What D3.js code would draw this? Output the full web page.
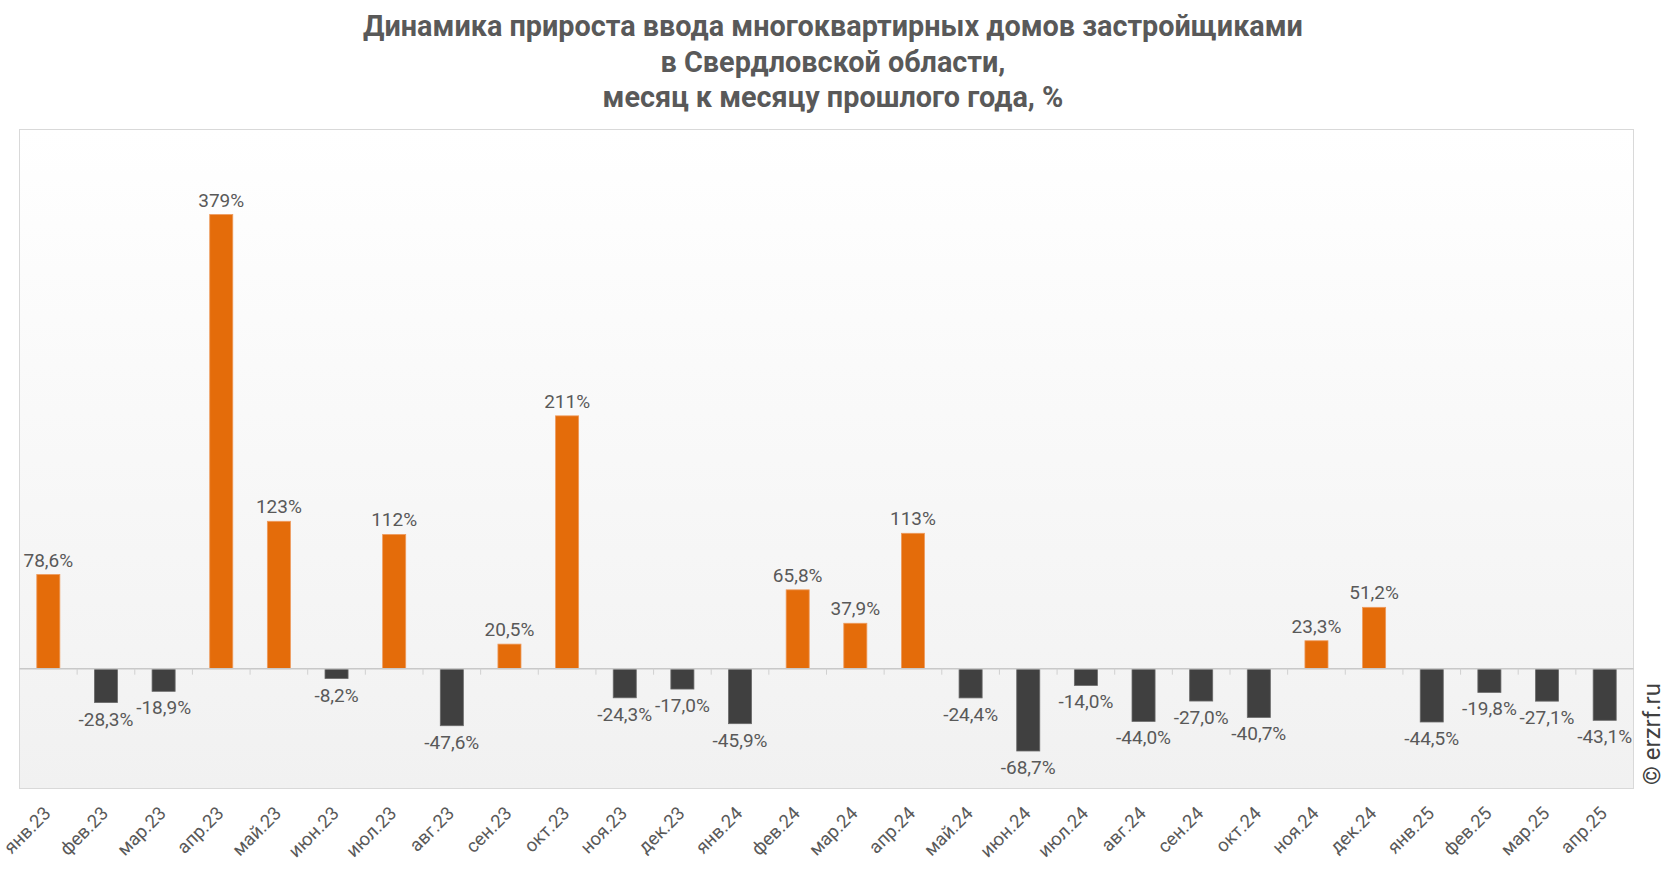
<!DOCTYPE html>
<html>
<head>
<meta charset="utf-8">
<script src="https://cdn.jsdelivr.net/npm/d3@7"></script>
<style>
  html, body { margin: 0; padding: 0; background: #fff; }
  svg { display: block; }
</style>
</head>
<body>
<svg id="chart" width="1666" height="872"></svg>
<script>
const titleLines = [
  "Динамика прироста ввода многоквартирных домов застройщиками",
  "в Свердловской области,",
  "месяц к месяцу прошлого года, %"
];
const categories = ["янв.23","фев.23","мар.23","апр.23","май.23","июн.23","июл.23","авг.23","сен.23","окт.23","ноя.23","дек.23",
  "янв.24","фев.24","мар.24","апр.24","май.24","июн.24","июл.24","авг.24","сен.24","окт.24","ноя.24","дек.24",
  "янв.25","фев.25","мар.25","апр.25"];
const values = [78.6,-28.3,-18.9,379,123,-8.2,112,-47.6,20.5,211,-24.3,-17.0,
  -45.9,65.8,37.9,113,-24.4,-68.7,-14.0,-44.0,-27.0,-40.7,23.3,51.2,
  -44.5,-19.8,-27.1,-43.1];
const yDomain = [-100, 450];
const watermark = "© erzrf.ru";

const svg = d3.select("#chart");
const W = 1666, H = 872;
const plot = {left: 19.5, right: 1633.5, top: 129.5, bottom: 788.5};

// title
svg.append("g").selectAll("text").data(titleLines).join("text")
  .attr("x", W / 2)
  .attr("y", (d, i) => 36 + i * 35.5)
  .attr("text-anchor", "middle")
  .attr("font-family", "Roboto, sans-serif")
  .attr("font-weight", "bold")
  .attr("font-size", 28.8)
  .attr("fill", "#595959")
  .text(d => d);

// background gradient
const defs = svg.append("defs");
const grad = defs.append("linearGradient").attr("id", "bg").attr("x1", 0).attr("y1", 0).attr("x2", 0).attr("y2", 1);
grad.append("stop").attr("offset", "0%").attr("stop-color", "#ffffff");
grad.append("stop").attr("offset", "100%").attr("stop-color", "#f1f1f1");

svg.append("rect")
  .attr("x", plot.left).attr("y", plot.top)
  .attr("width", plot.right - plot.left).attr("height", plot.bottom - plot.top)
  .attr("fill", "url(#bg)")
  .attr("stroke", "#d9d9d9").attr("stroke-width", 1);

const x = d3.scaleBand().domain(categories).range([plot.left, plot.right]).paddingInner(0).paddingOuter(0);
const y = d3.scaleLinear().domain(yDomain).range([plot.bottom, plot.top]);
const barW = x.bandwidth() * 0.4;

// bars
svg.append("g").selectAll("rect").data(values).join("rect")
  .attr("x", (d, i) => x(categories[i]) + (x.bandwidth() - barW) / 2)
  .attr("y", d => y(Math.max(0, d)))
  .attr("width", barW)
  .attr("height", d => Math.abs(y(d) - y(0)))
  .attr("fill", d => d >= 0 ? "#E46C0A" : "#404040")
  .attr("stroke", d => d >= 0 ? "#EE9A5C" : "#6a6a6a")
  .attr("stroke-width", 0.8);

// zero axis with ticks at band boundaries
const axisG = svg.append("g").attr("transform", `translate(0,${y(0)})`);
axisG.append("line")
  .attr("x1", plot.left).attr("x2", plot.right)
  .attr("stroke", "#c8c8c8").attr("stroke-width", 1.5);
const boundaries = categories.slice(1).map(c => x(c));
axisG.selectAll("line.tick").data(boundaries).join("line")
  .attr("class", "tick")
  .attr("x1", d => d).attr("x2", d => d)
  .attr("y1", 0).attr("y2", 6)
  .attr("stroke", "#d0d0d0").attr("stroke-width", 1);

// data labels
const fmt = v => {
  const s = Math.abs(v) >= 100 ? d3.format(".0f")(v) : d3.format(".1f")(v);
  return s.replace(".", ",").replace("−", "-") + "%";
};
svg.append("g").selectAll("text").data(values).join("text")
  .attr("x", (d, i) => x(categories[i]) + x.bandwidth() / 2)
  .attr("y", d => d >= 0 ? y(d) - 8 : y(d) + 23)
  .attr("text-anchor", "middle")
  .attr("font-family", "Roboto, sans-serif")
  .attr("font-size", 19)
  .attr("fill", "#595959")
  .text(d => fmt(d));

// category labels
svg.append("g").selectAll("text").data(categories).join("text")
  .attr("transform", d => `translate(${x(d) + x.bandwidth() / 2 + 3.5},${plot.bottom + 26}) rotate(-45)`)
  .attr("text-anchor", "end")
  .attr("font-family", "Roboto, sans-serif")
  .attr("font-size", 18.5)
  .attr("fill", "#595959")
  .text(d => d);

// watermark
svg.append("text")
  .attr("transform", `translate(1660,785) rotate(-90)`)
  .attr("font-family", "Roboto, sans-serif")
  .attr("font-size", 24)
  .attr("fill", "#404040")
  .text(watermark);
</script>
</body>
</html>
